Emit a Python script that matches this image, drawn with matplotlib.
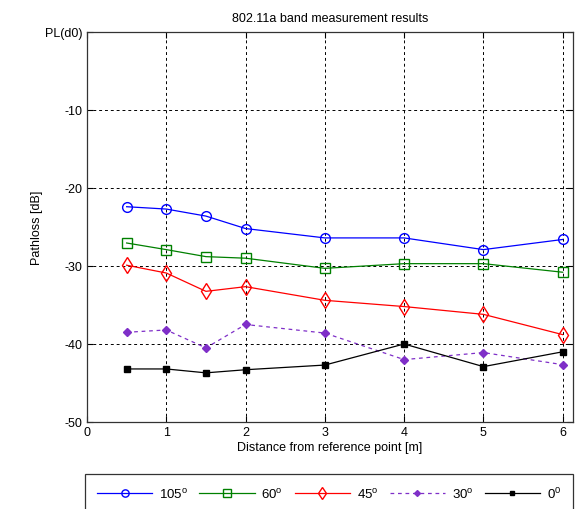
import matplotlib
matplotlib.use("Agg")
import matplotlib.pyplot as plt

plt.rcParams['font.family'] = ['Liberation Sans', 'DejaVu Sans']
plt.rcParams['font.size'] = 9
plt.rcParams['mathtext.fontset'] = 'custom'
plt.rcParams['mathtext.rm'] = 'Liberation Sans'
plt.rcParams['mathtext.it'] = 'Liberation Sans'

# distance from reference point [m]
distance = [0.5, 1, 1.5, 2, 3, 4, 5, 6]

# pathloss relative to PL(d0) [dB], one series per angle
pl_105 = [-22.4, -22.7, -23.6, -25.2, -26.4, -26.4, -27.9, -26.6]
pl_60 = [-27.05, -27.9, -28.8, -29.0, -30.3, -29.7, -29.7, -30.8]
pl_45 = [-29.9, -30.9, -33.25, -32.65, -34.4, -35.2, -36.2, -38.8]
pl_30 = [-38.5, -38.2, -40.5, -37.5, -38.6, -42.0, -41.1, -42.65]
pl_0 = [-43.2, -43.2, -43.7, -43.3, -42.7, -40.0, -42.9, -41.0]

labels = ['105$^\\mathrm{o}$', '60$^\\mathrm{o}$', '45$^\\mathrm{o}$',
          '30$^\\mathrm{o}$', '0$^\\mathrm{0}$']
yticks = [-50, -40, -30, -20, -10, 0]
ytick_labels = ['-50', '-40', '-30', '-20', '-10', 'PL(d0)']

fig = plt.figure(figsize=(5.85, 5.10), dpi=100)
ax = fig.add_axes([0.1487, 0.1706, 0.8308, 0.7647])

purple = '#7f2fc8'
ax.plot(distance, pl_105, color='blue', lw=0.9, marker='o', ms=7,
        mfc='none', mec='blue', label=labels[0])
ax.plot(distance, pl_60, color='green', lw=0.9, marker='s', ms=7.5,
        mfc='none', mec='green', label=labels[1])
ax.plot(distance, pl_45, color='red', lw=0.9, marker='d', ms=8,
        mfc='none', mec='red', label=labels[2])
ax.plot(distance, pl_30, color=purple, lw=0.9, ls=(0, (3, 3)), marker='D',
        ms=4, mfc=purple, mec=purple, label=labels[3])
ax.plot(distance, pl_0, color='black', lw=0.9, marker='s', ms=4,
        mfc='black', mec='black', label=labels[4])

ax.set_xlim(0, 6.13)
ax.set_ylim(-50, 0)
ax.set_xticks(range(7))
ax.set_yticks(yticks)
ax.set_yticklabels(ytick_labels)
ax.tick_params(direction='in', top=True, right=True, length=4, width=0.8,
               labelsize=9, pad=3)
ax.grid(True, color='black', ls=(0, (3, 3)), lw=0.7)
for s in ax.spines.values():
    s.set_linewidth(0.9)
    s.set_color('#333333')

ax.set_title('802.11a band measurement results', fontsize=9, pad=8)
ax.set_xlabel('Distance from reference point [m]', fontsize=9, labelpad=2)
ax.set_ylabel('Pathloss [dB]', fontsize=9, labelpad=2)

leg = ax.legend(loc='upper left', ncol=5, mode='expand',
                bbox_to_anchor=(85 / 585, 0, 488 / 585, 1 - 475 / 510),
                bbox_transform=fig.transFigure, borderaxespad=0,
                frameon=True, fancybox=False, edgecolor='black',
                handlelength=4.2, handletextpad=0.5, columnspacing=1.2,
                borderpad=0.9, fontsize=9.5, markerscale=0.75)
leg.get_frame().set_linewidth(0.9)

fig.savefig('out.png', dpi=100)
